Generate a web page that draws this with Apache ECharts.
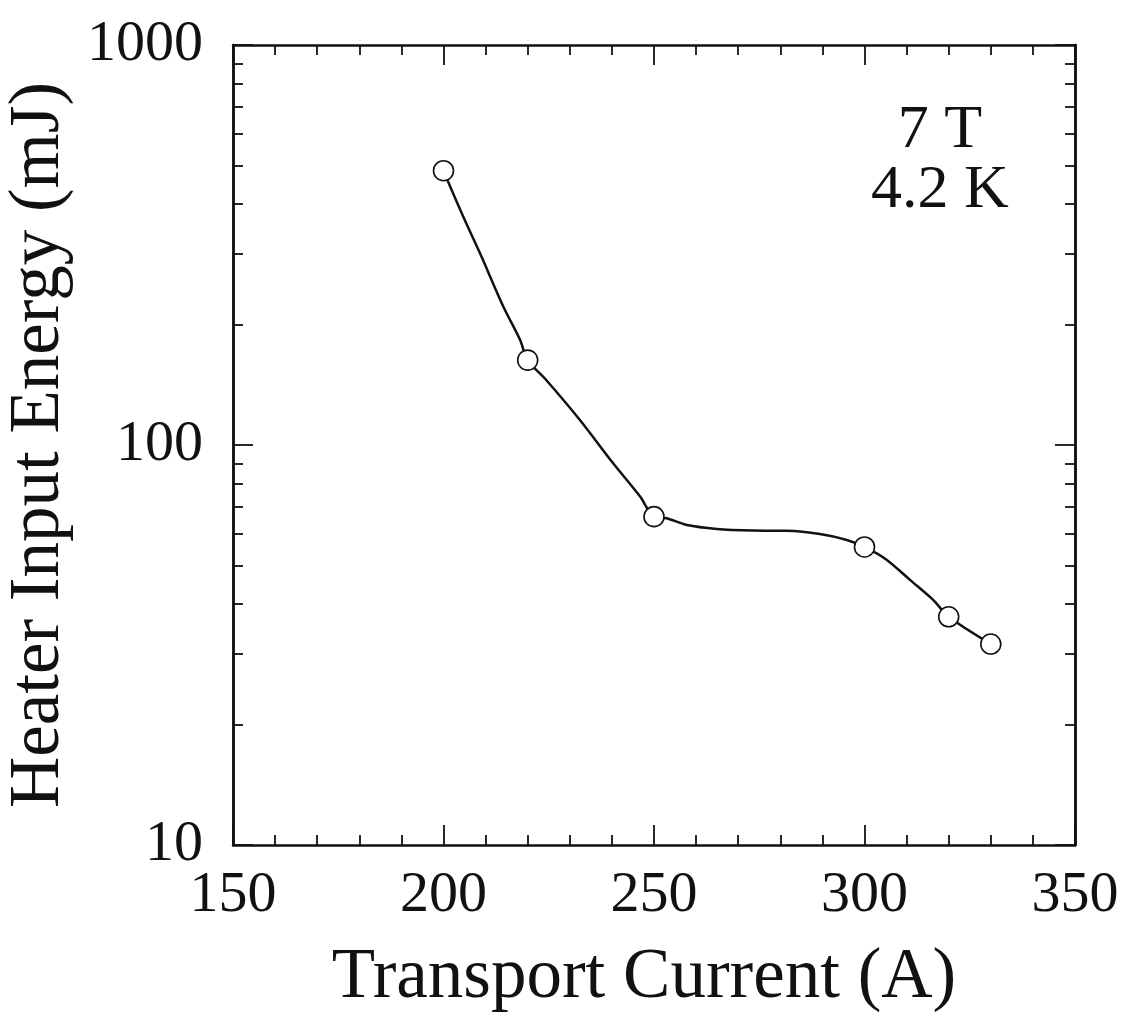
<!DOCTYPE html>
<html>
<head>
<meta charset="utf-8">
<script src="https://cdn.jsdelivr.net/npm/echarts@6/dist/echarts.min.js"></script>
<style>
html,body{margin:0;padding:0;background:#fff;}
#chart{width:1133px;height:1033px;}
</style>
</head>
<body>
<div id="chart"></div>
<script>
// Measured points (circles)
const currentA = [200, 220, 250, 300, 320, 330];
const energyMJ = [485, 163, 66.2, 55.6, 37.2, 31.8];
// Points
const curveCurrent = [201.1, 204.7, 208.7, 214.2, 218.2, 224.5, 232.4, 240.3, 246.7, 253.0, 257.8, 264.9, 273.6, 281.5, 289.4, 295.8, 305.3, 310.8, 316.3];
const curveEnergy = [455, 372, 301, 222, 183, 145, 115.5, 90, 74.3, 65.6, 63.1, 61.7, 61.1, 61.0, 59.9, 57.9, 51.6, 46.0, 41.0];
// Axis ticks
const xTicks = [150, 200, 250, 300, 350];
const yMajorTicks = [10, 100, 1000];
const yMinorTicks = [20, 30, 40, 50, 60, 70, 80, 90, 200, 300, 400, 500, 600, 700, 800, 900];
const xTitle = 'Transport Current (A)';
const yTitle = 'Heater Input Energy (mJ)';
const annotationLines = ['7 T', '4.2 K'];

const FONT = '"Liberation Serif", "DejaVu Serif", serif';
const BLACK = '#111';

const measured = currentA.map((x, i) => [x, energyMJ[i]]);
const curve = measured.concat(curveCurrent.map((x, i) => [x, curveEnergy[i]]))
  .sort((a, b) => a[0] - b[0]);

const chart = echarts.init(document.getElementById('chart'));

function xAxisDef(pos, showLabel) {
  return {
    type: 'value', position: pos,
    min: xTicks[0], max: xTicks[xTicks.length - 1], interval: 50,
    axisLine: { show: true, onZero: false, lineStyle: { color: BLACK, width: 2.5 } },
    axisTick: { show: true, inside: true, length: 20, lineStyle: { color: BLACK, width: 1.8 } },
    minorTick: { show: true, splitNumber: 5, length: 10, lineStyle: { color: BLACK, width: 1.8 } },
    splitLine: { show: false },
    axisLabel: { show: showLabel, color: BLACK, fontFamily: FONT, fontSize: 58, margin: 22 },
    name: showLabel ? xTitle : '',
    nameLocation: 'middle', nameGap: 98,
    nameTextStyle: { color: BLACK, fontFamily: FONT, fontSize: 71, padding: [0, 20, 0, 0] }
  };
}

function yAxisDef(pos, major, showLabel, withName) {
  return {
    type: 'log', logBase: 10, position: pos,
    min: 10, max: 1000, interval: 1,
    axisLine: { show: true, onZero: false, lineStyle: { color: BLACK, width: 2.5 } },
    axisTick: { show: true, inside: true, length: major ? 20 : 10,
      customValues: major ? yMajorTicks : yMinorTicks,
      lineStyle: { color: BLACK, width: 1.8 } },
    minorTick: { show: false },
    splitLine: { show: false },
    axisLabel: { show: showLabel, color: BLACK, fontFamily: FONT, fontSize: 58, margin: 30,
      customValues: yMajorTicks,
      showMinLabel: true, showMaxLabel: true,
      formatter: v => String(Math.round(v)) },
    name: withName ? yTitle : '',
    nameLocation: 'middle', nameGap: 158, nameRotate: 90,
    nameTextStyle: { color: BLACK, fontFamily: FONT, fontSize: 71 }
  };
}

chart.setOption({
  backgroundColor: '#fff',
  animation: false,
  grid: { left: 233, top: 45, right: 58, bottom: 188, containLabel: false, outerBoundsMode: 'none' },
  xAxis: [xAxisDef('bottom', true), xAxisDef('top', false)],
  yAxis: [
    yAxisDef('left', true, true, true),
    yAxisDef('left', false, false, false),
    yAxisDef('right', true, false, false),
    yAxisDef('right', false, false, false)
  ],
  graphic: annotationLines.map((t, i) => ({
    type: 'text', x: 940, y: 100 + i * 60,
    style: { text: t, fill: BLACK, font: '62px ' + FONT, align: 'center', textAlign: 'center', verticalAlign: 'top' }
  })),
  series: [
    {
      type: 'line', data: curve, smooth: 0.3, showSymbol: false, symbol: 'none',
      lineStyle: { color: BLACK, width: 2.5 }, z: 2, silent: true
    },
    {
      type: 'scatter', data: measured, symbol: 'circle', symbolSize: 20,
      itemStyle: { color: '#fff', borderColor: BLACK, borderWidth: 1.6, opacity: 1 }, z: 3
    }
  ]
});
</script>
</body>
</html>
